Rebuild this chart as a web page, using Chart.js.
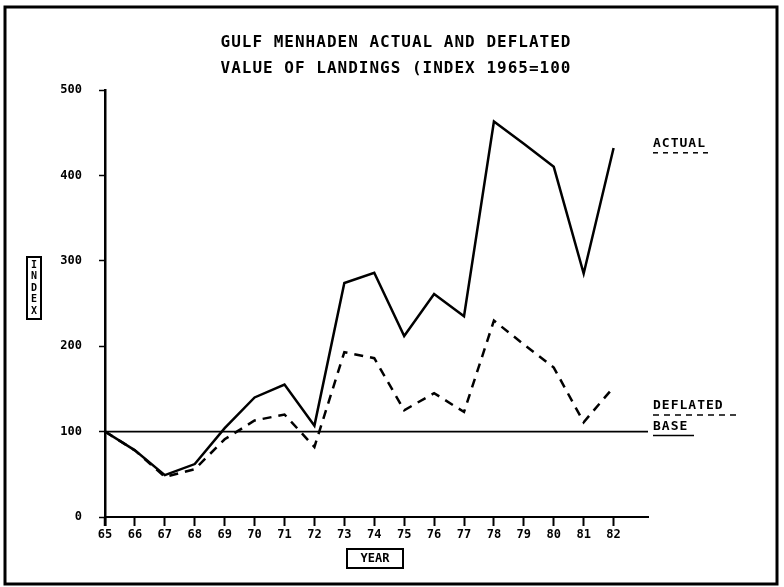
<!DOCTYPE html>
<html>
<head>
<meta charset="utf-8">
<script src="https://cdn.jsdelivr.net/npm/chart.js@4"></script>
<style>
  html, body { margin: 0; padding: 0; background: #fff; }
  #wrap { width: 784px; height: 587px; }
</style>
</head>
<body>
<div id="wrap"><canvas id="chart" width="784" height="587"></canvas></div>
<script>
// years 1965..1982, shown as two-digit labels
const years = [65, 66, 67, 68, 69, 70, 71, 72, 73, 74, 75, 76, 77, 78, 79, 80, 81, 82];
const actualIndex = [100, 78, 49, 62, 104, 140, 155, 107, 274, 286, 212, 261, 235, 463, 437, 410, 285, 432];
const deflatedIndex = [100, 78, 47, 56, 91, 113, 120, 82, 193, 186, 125, 145, 123, 230, 202, 175, 111, 152];
const baseIndex = 100;
const yTicks = [0, 100, 200, 300, 400, 500];
const titleLines = ['GULF MENHADEN ACTUAL AND DEFLATED', 'VALUE OF LANDINGS (INDEX 1965=100'];
const xMax = 83.15;

const mono = "'DejaVu Sans Mono', 'Liberation Mono', monospace";

const toPoints = (vals) => years.map((yr, i) => ({ x: yr, y: vals[i] }));

const decorPlugin = {
    id: 'decor',
    beforeDraw(chart) {
        const ctx = chart.ctx;
        ctx.save();
        ctx.fillStyle = '#fff';
        ctx.fillRect(0, 0, chart.width, chart.height);
        ctx.restore();
    },
    afterDraw(chart) {
        const ctx = chart.ctx;
        const { x, y } = chart.scales;
        const right = chart.chartArea.right;
        ctx.save();
        // outer frame
        ctx.strokeStyle = '#000';
        ctx.lineWidth = 3;
        ctx.strokeRect(5, 7, 772, 577);

        // title
        ctx.fillStyle = '#000';
        ctx.textAlign = 'center';
        ctx.textBaseline = 'middle';
        ctx.font = `bold 16px ${mono}`;
        ctx.letterSpacing = '1px';
        titleLines.forEach((t, i) => ctx.fillText(t, 396, 43 + i * 26));

        // y axis label box
        ctx.letterSpacing = '0px';
        ctx.lineWidth = 2;
        ctx.strokeRect(27, 257, 14, 62);
        ctx.font = `bold 10px ${mono}`;
        'INDEX'.split('').forEach((ch, i) => ctx.fillText(ch, 34, 265 + i * 11.5));

        // x axis label box
        ctx.strokeRect(347, 549, 56, 19);
        ctx.font = `bold 12px ${mono}`;
        ctx.fillText('YEAR', 375, 559);

        // series labels at the right
        ctx.textAlign = 'left';
        ctx.font = `bold 13px ${mono}`;
        ctx.letterSpacing = '1px';
        const lx = right + 5;
        const labels = [
            { text: 'ACTUAL', py: y.getPixelForValue(437), w: 56, dash: [5, 5] },
            { text: 'DEFLATED', py: y.getPixelForValue(130), w: 88, dash: [6, 5] },
            { text: 'BASE', py: y.getPixelForValue(106), w: 41, dash: [] }
        ];
        labels.forEach(l => {
            ctx.fillText(l.text, lx, l.py);
            ctx.beginPath();
            ctx.setLineDash(l.dash);
            ctx.lineWidth = 1.5;
            ctx.moveTo(lx, l.py + 9);
            ctx.lineTo(lx + l.w, l.py + 9);
            ctx.stroke();
        });
        ctx.setLineDash([]);

        // y axis runs a bit below zero
        ctx.lineWidth = 2.5;
        ctx.beginPath();
        ctx.moveTo(x.getPixelForValue(65), y.getPixelForValue(0));
        ctx.lineTo(x.getPixelForValue(65), y.getPixelForValue(0) + 9);
        ctx.stroke();
        ctx.restore();
    }
};

new Chart(document.getElementById('chart'), {
    type: 'line',
    data: {
        datasets: [
            {
                label: 'ACTUAL',
                data: toPoints(actualIndex),
                borderColor: '#000',
                borderWidth: 2.5,
                pointRadius: 0,
                tension: 0
            },
            {
                label: 'DEFLATED',
                data: toPoints(deflatedIndex),
                borderColor: '#000',
                borderWidth: 2.5,
                borderDash: [9, 7],
                pointRadius: 0,
                tension: 0
            },
            {
                label: 'BASE',
                data: [{ x: 65, y: baseIndex }, { x: xMax, y: baseIndex }],
                borderColor: '#000',
                borderWidth: 1.8,
                pointRadius: 0,
                tension: 0
            }
        ]
    },
    options: {
        responsive: false,
        animation: false,
        layout: { padding: { left: 50, top: 90, right: 136, bottom: 40 } },
        plugins: { legend: { display: false }, tooltip: { enabled: false }, title: { display: false } },
        scales: {
            x: {
                type: 'linear',
                min: 65,
                max: xMax,
                afterFit: s => { s.height = 30; },
                afterBuildTicks: s => { s.ticks = years.map(v => ({ value: v })); },
                ticks: {
                    autoSkip: false,
                    maxRotation: 0,
                    padding: 2,
                    color: '#000',
                    font: { family: mono, size: 12, weight: 'bold' },
                    callback: v => String(v)
                },
                grid: { drawOnChartArea: false, drawTicks: true, tickLength: 9, tickWidth: 2, tickColor: '#000' },
                border: { display: true, color: '#000', width: 2 }
            },
            y: {
                min: 0,
                max: 500,
                afterFit: s => { s.width = 55; },
                afterBuildTicks: s => { s.ticks = yTicks.map(v => ({ value: v })); },
                ticks: {
                    padding: 17,
                    color: '#000',
                    font: { family: mono, size: 12, weight: 'bold' }
                },
                grid: { drawOnChartArea: false, drawTicks: true, tickLength: 6, tickWidth: 1.5, tickColor: '#000' },
                border: { display: true, color: '#000', width: 2.5 }
            }
        }
    },
    plugins: [decorPlugin]
});
</script>
</body>
</html>
